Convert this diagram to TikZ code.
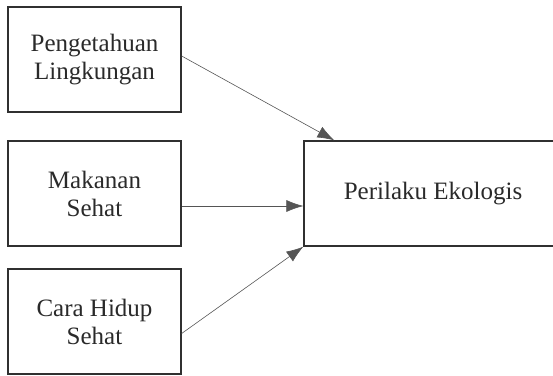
\documentclass[tikz,border=0pt]{standalone}
\usepackage{fontspec}
\setmainfont{Liberation Serif}
\usetikzlibrary{arrows.meta}
\definecolor{boxline}{HTML}{303030}
\definecolor{arrline}{HTML}{555555}
\definecolor{txt}{HTML}{2A2A2A}
\begin{document}
\begin{tikzpicture}[x=1pt,y=1pt,
  varbox/.style={draw=boxline, line width=1.3pt, fill=white, text=txt,
    minimum width=173pt, minimum height=105pt, align=center,
    font=\fontsize{25}{28}\selectfont, inner sep=0pt},
  link/.style={draw=arrline, line width=0.6pt,
    -{Latex[length=17pt,width=12pt]}}]
  \useasboundingbox (0,0) rectangle (553,375);
  \clip (0,0) rectangle (553,375);
  % independent variables
  \node[varbox] (peng) at (94.5,315.5) {Pengetahuan\\Lingkungan};
  \node[varbox] (mak)  at (94.5,181.5) {Makanan\\Sehat};
  \node[varbox] (cara) at (94.5,53.5)  {Cara Hidup\\Sehat};
  % dependent variable
  \node[varbox, minimum width=258pt] (eko) at (433,181.5) {Perilaku Ekologis};
  % influence arrows
  \draw[link] ([yshift=3.5pt]peng.east) -- ([xshift=31pt]eko.north west);
  \draw[link] ([yshift=-12.5pt]mak.east) -- ([yshift=-12.5pt]eko.west);
  \draw[link] ([yshift=-12pt]cara.east) -- (eko.south west);
\end{tikzpicture}
\end{document}
